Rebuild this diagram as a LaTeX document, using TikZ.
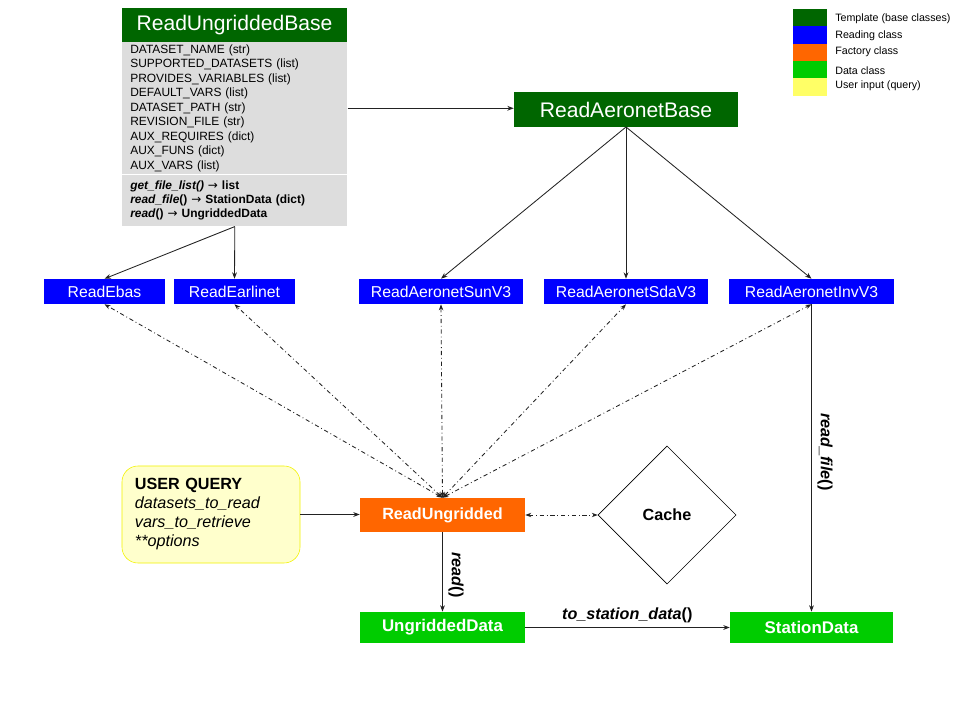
\documentclass[tikz,border=0pt]{standalone}
\usepackage{fontspec}
\setmainfont{Liberation Sans}
\newfontfamily\arrowfont{DejaVu Sans}
\usetikzlibrary{
  arrows.meta,
  positioning,
  shapes.geometric
}
\definecolor{tmplgreen}{HTML}{006600}
\definecolor{readblue}{HTML}{0000FF}
\definecolor{factorange}{HTML}{FF6600}
\definecolor{datagreen}{HTML}{00CC00}
\definecolor{legendyellow}{HTML}{FFFF66}
\definecolor{queryfill}{HTML}{FFFFCC}
\definecolor{queryline}{HTML}{F2F200}
\definecolor{panelgray}{HTML}{DDDDDD}
\definecolor{linkgray}{HTML}{222222}
\newcommand{\retarrow}{{\arrowfont\mdseries →}}

\begin{document}
\begin{tikzpicture}[
  x=0.025cm, y=-0.025cm,
  tmpl/.style={
    fill=tmplgreen, text=white, inner sep=0pt,
    minimum width=5.6cm, minimum height=0.86cm,
    font=\fontsize{15}{18}\selectfont
  },
  panel/.style={
    fill=panelgray, anchor=north west, inner xsep=0.2cm, inner ysep=0pt,
    minimum width=5.625cm, text width=5.225cm, align=left,
    font=\fontsize{8.5}{10.3}\selectfont
  },
  readcls/.style={
    fill=readblue, text=white, inner sep=0pt,
    minimum height=0.625cm,
    font=\fontsize{11.2}{13}\selectfont
  },
  factory/.style={
    fill=factorange, text=white, inner sep=0pt,
    minimum width=4.125cm, minimum height=0.85cm,
    font=\fontsize{11.5}{13}\selectfont\bfseries
  },
  datacls/.style={
    fill=datagreen, text=white, inner sep=0pt,
    minimum width=4.1cm, minimum height=0.78cm,
    font=\fontsize{12}{14}\selectfont\bfseries
  },
  querybox/.style={
    rounded corners=0.4cm, draw=queryline, fill=queryfill,
    minimum width=4.45cm, minimum height=2.425cm,
    text width=3.8cm, inner xsep=0.325cm, align=left,
    font=\fontsize{11.5}{13.5}\selectfont
  },
  cachebox/.style={
    diamond, draw, shape aspect=1, inner sep=0pt,
    minimum width=3.45cm, minimum height=3.45cm,
    font=\fontsize{11.5}{13}\selectfont\bfseries
  },
  link/.style={line width=0.6pt, linkgray, -{Stealth[length=1.6mm, width=1.2mm]}},
  dlink/.style={line width=0.6pt, linkgray, dash dot,
    {Stealth[length=1.5mm, width=1.1mm]}-{Stealth[length=1.5mm, width=1.1mm]}},
  lbl/.style={font=\fontsize{11.5}{13}\selectfont\bfseries, text=black},
  legtxt/.style={anchor=west, inner sep=0pt, font=\fontsize{7.6}{9}\selectfont}
]
\useasboundingbox (0,0) rectangle (959,720);

% base class with its attributes and methods
\node[tmpl, minimum width=5.625cm] (base) at (234.5,25) {ReadUngriddedBase};
\node[panel, minimum height=3.3cm] (attrs) at (122,42) {%
  DATASET\_NAME (str)\\
  SUPPORTED\_DATASETS (list)\\
  PROVIDES\_VARIABLES (list)\\
  DEFAULT\_VARS (list)\\
  DATASET\_PATH (str)\\
  REVISION\_FILE (str)\\
  AUX\_REQUIRES (dict)\\
  AUX\_FUNS (dict)\\
  AUX\_VARS (list)};
\node[panel, minimum height=1.275cm, font=\fontsize{8.5}{10}\selectfont\bfseries] (methods) at (122,175) {%
  \textit{get\_file\_list()} \retarrow{} list\\
  \textit{read\_file}() \retarrow{} StationData (dict)\\
  \textit{read}() \retarrow{} UngriddedData};

\node[tmpl] (aerobase) at (626,109.5) {ReadAeronetBase};

% reading classes
\node[readcls, minimum width=3.025cm] (ebas) at (104.5,291.5) {ReadEbas};
\node[readcls, minimum width=3.025cm] (earlinet) at (234.5,291.5) {ReadEarlinet};
\node[readcls, minimum width=4.1cm] (sun) at (441,291.5) {ReadAeronetSunV3};
\node[readcls, minimum width=4.1cm] (sda) at (626,291.5) {ReadAeronetSdaV3};
\node[readcls, minimum width=4.1cm] (inv) at (811.5,291.5) {ReadAeronetInvV3};

% factory, query and cache
\node[factory] (rung) at (442.5,515) {ReadUngridded};
\node[querybox] (query) at (211,514.5) {%
  \textbf{USER QUERY}\\
  \textit{datasets\_to\_read}\\
  \textit{vars\_to\_retrieve}\\
  \textit{**options}};
\node[cachebox] (cache) at (667,515) {Cache};

% data classes
\node[datacls] (ungdata) at (442.5,627.5) {UngriddedData};
\node[datacls, minimum width=4.075cm] (station) at (811.5,627.5) {StationData};

% inheritance
\draw[link] (attrs.east) -- (attrs.east -| aerobase.west);
\draw[link] (methods.south) -- (ebas.north);
\draw[link] (methods.south) -- (earlinet.north);
\draw[link] (aerobase.south) -- (sun.north);
\draw[link] (aerobase.south) -- (sda.north);
\draw[link] (aerobase.south) -- (inv.north);

% factory uses the readers
\draw[dlink] (rung.north) -- (ebas.south);
\draw[dlink] (rung.north) -- (earlinet.south);
\draw[dlink] (rung.north) -- (sun.south);
\draw[dlink] (rung.north) -- (sda.south);
\draw[dlink] (rung.north) -- (inv.south);
\draw[dlink] (rung.east) -- (cache.west);

\draw[link] (query.east) -- (query.east -| rung.west);
\draw[link] (rung.south) --
  node[lbl, pos=0.54, anchor=south, rotate=-90, inner sep=4pt] {\textit{read}()} (ungdata.north);
\draw[link] (inv.south) --
  node[lbl, pos=0.48, anchor=south, rotate=-90, inner sep=4pt] {\textit{read\_file}()} (station.north);
\draw[link] (ungdata.east) --
  node[lbl, above, inner sep=3pt] {\textit{to\_station\_data}()} (station.west);

% legend
\foreach \col/\ty/\txt [count=\i] in {
  tmplgreen/19/Template (base classes),
  readblue/36/Reading class,
  factorange/52/Factory class,
  datagreen/71/Data class,
  legendyellow/86/User input (query)} {
  \node[fill=\col, minimum width=0.85cm, minimum height=0.435cm, inner sep=0pt]
    (sw\i) at (810,{0.5+17.3*\i}) {};
  \node[legtxt] (leg\i) at (835,\ty) {\txt};
}

\end{tikzpicture}
\end{document}
